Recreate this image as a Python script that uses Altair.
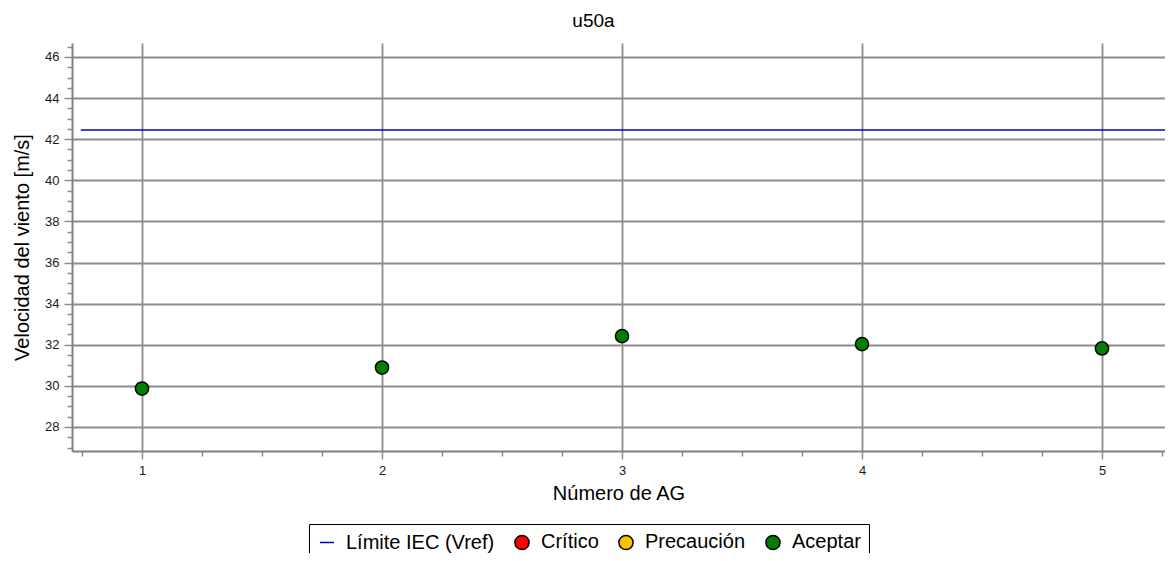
import altair as alt
import pandas as pd

# ---- data ----
ag_numbers = [1, 2, 3, 4, 5]
u50a_values = [29.87, 30.89, 32.42, 32.03, 31.82]
point_status = ["Aceptar", "Aceptar", "Aceptar", "Aceptar", "Aceptar"]

limit_label = "Límite IEC (Vref)"
limit_value = 42.45
limit_x = [0.745, 5.265]

legend_labels = ["Límite IEC (Vref)", "Crítico", "Precaución", "Aceptar"]
legend_fill = ["transparent", "#FF0000", "#FFC000", "#007F00"]
legend_stroke = ["#0000CC", "#000000", "#000000", "#000000"]
legend_shape = ["stroke", "circle", "circle", "circle"]

x_major = [1, 2, 3, 4, 5]
x_minor = [0.75, 1.25, 1.5, 1.75, 2.25, 2.5, 2.75, 3.25, 3.5, 3.75,
           4.25, 4.5, 4.75, 5.25]
y_major = [28, 30, 32, 34, 36, 38, 40, 42, 44, 46]
y_minor = [27, 27.5, 28.5, 29, 29.5, 30.5, 31, 31.5, 32.5, 33, 33.5,
           34.5, 35, 35.5, 36.5, 37, 37.5, 38.5, 39, 39.5, 40.5, 41, 41.5,
           42.5, 43, 43.5, 44.5, 45, 45.5, 46.5]
x_domain = [0.7083, 5.2625]
y_domain = [26.83, 46.68]

FONT = "Liberation Sans"
GRID = "#8c8c8c"

points_df = pd.DataFrame({"ag": ag_numbers, "v": u50a_values, "cat": point_status})
limit_df = pd.DataFrame({"ag": limit_x, "v": [limit_value, limit_value],
                         "cat": [limit_label, limit_label]})

xscale = alt.Scale(domain=x_domain, nice=False, zero=False)
yscale = alt.Scale(domain=y_domain, nice=False, zero=False)

legend = alt.Legend(
    title=None, orient="none", legendX=237, legendY=481,
    direction="horizontal", columns=4,
    labelFontSize=20, labelFont=FONT, labelColor="#000000",
    symbolSize=200, symbolStrokeWidth=1.5, labelOffset=9,
    columnPadding=16, padding=8,
    strokeColor="#000000", fillColor="#FFFFFF",
)

fill_scale = alt.Scale(domain=legend_labels, range=legend_fill)
stroke_scale = alt.Scale(domain=legend_labels, range=legend_stroke)
shape_scale = alt.Scale(domain=legend_labels, range=legend_shape)

# minor ticks (independent axes on the same scales)
minor = alt.Chart(points_df).mark_point(opacity=0).encode(
    x=alt.X("ag:Q", scale=xscale,
            axis=alt.Axis(values=x_minor, labels=False, grid=False, domain=False,
                          tickSize=5, tickColor=GRID, tickWidth=1.5,
                          title=None, orient="bottom")),
    y=alt.Y("v:Q", scale=yscale,
            axis=alt.Axis(values=y_minor, labels=False, grid=False, domain=False,
                          tickSize=5, tickColor=GRID, tickWidth=1.5,
                          title=None, orient="left")),
)

line = alt.Chart(limit_df).mark_line(strokeWidth=1.6).encode(
    x=alt.X("ag:Q", scale=xscale,
            axis=alt.Axis(values=x_major, format="d", grid=True, tickSize=8,
                          title="Número de AG", orient="bottom")),
    y=alt.Y("v:Q", scale=yscale,
            axis=alt.Axis(values=y_major, format="d", grid=True, tickSize=8,
                          title="Velocidad del viento [m/s]", orient="left")),
    stroke=alt.Stroke("cat:N", scale=stroke_scale, legend=legend),
)

pts = alt.Chart(points_df).mark_point(filled=True, size=175, strokeWidth=1.5,
                                      opacity=1).encode(
    x=alt.X("ag:Q", scale=xscale, axis=None),
    y=alt.Y("v:Q", scale=yscale, axis=None),
    fill=alt.Fill("cat:N", scale=fill_scale, legend=legend),
    stroke=alt.Stroke("cat:N", scale=stroke_scale, legend=legend),
    shape=alt.Shape("cat:N", scale=shape_scale, legend=legend),
)

chart = alt.layer(minor, line, pts).resolve_axis(x="independent", y="independent").properties(
    width=1093, height=408,
    autosize=alt.AutoSizeParams(type="none"),
    padding={"left": 64, "top": 35, "right": 0, "bottom": 102},
    background="#FFFFFF",
    title=alt.TitleParams("u50a", fontSize=19, font=FONT, fontWeight="normal",
                          color="#000000", offset=12, dx=-25, anchor="middle"),
).configure_view(stroke=None).configure_axis(
    labelFont=FONT, labelFontSize=13, labelColor="#1a1a1a", labelPadding=5,
    titleFont=FONT, titleFontSize=20, titleFontWeight="normal", titleColor="#000000",
    domainColor="#808080", domainWidth=2,
    tickColor=GRID, tickWidth=1.5,
    gridColor=GRID, gridWidth=1.8, gridOpacity=1,
).configure_axisX(titlePadding=6).configure_axisY(titlePadding=12)

chart.save("out.html", embed_options={"renderer": "svg", "actions": False})
